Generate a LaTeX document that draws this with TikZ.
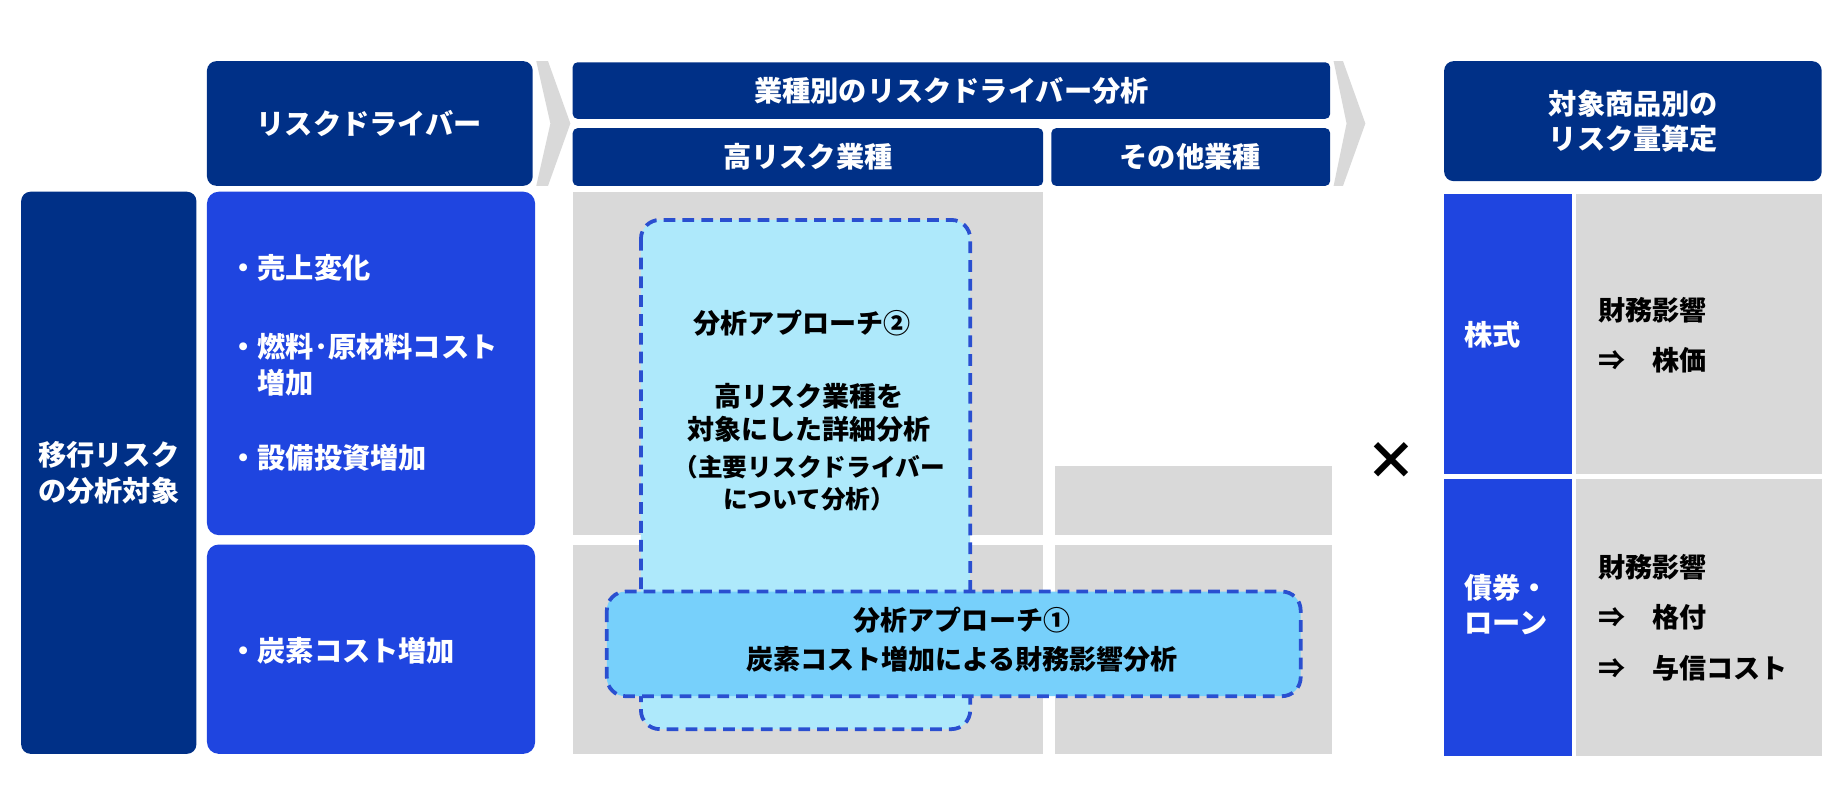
\documentclass[tikz,border=0pt]{standalone}
\usepackage{fontspec}
\setmainfont{Noto Sans CJK JP}
\begin{document}
\begin{tikzpicture}[x=0.5pt,y=-0.5pt,
  navy/.style={fill=navyc,draw=none,rounded corners=4pt},
  blu/.style={fill=bluec,draw=none,rounded corners=5pt},
  gry/.style={fill=grayc,draw=none},
  wt/.style={text=white,font=\bfseries\fontsize{12}{15}\selectfont},
  bk/.style={text=black,font=\bfseries\fontsize{11.5}{14}\selectfont},
  dsh/.style={draw=dashc,line width=1.6pt,dash pattern=on 5pt off 3pt,rounded corners=8pt}]
\definecolor{navyc}{HTML}{003087}
\definecolor{bluec}{HTML}{1F45E0}
\definecolor{grayc}{HTML}{D9D9D9}
\definecolor{dashc}{HTML}{2A4FD0}
\definecolor{cyan2}{HTML}{AEE9FB}
\definecolor{cyan1}{HTML}{77D0FB}
\useasboundingbox (0,0) rectangle (1568,677);
% left
\path[navy] (18,163) rectangle (167,641);
\node[wt,align=center] (obj) at (92.5,402) {移行リスク\\の分析対象};
\path[navy] (176,52) rectangle (453,158);
\node[wt] (rd) at (314,105) {リスクドライバー};
\path[blu] (176,163) rectangle (455,455);
\path[blu] (176,463) rectangle (455,641);
\node[wt,anchor=west] (d1) at (188,228) {・売上変化};
\node[wt,anchor=west,align=left] (d2) at (188,310) {・燃料･原材料コスト\\\phantom{・}増加};
\node[wt,anchor=west] (d3) at (188,389) {・設備投資増加};
\node[wt,anchor=west] (d4) at (188,553) {・炭素コスト増加};
% chevrons
\path[gry] (456,52) -- (466,52) -- (485,105) -- (466,158) -- (456,158) -- (468,105) -- cycle;
\path[gry] (1134,52) -- (1142,52) -- (1161,105) -- (1142,158) -- (1134,158) -- (1145,105) -- cycle;
% middle headers
\path[navy,rounded corners=2pt] (487,53) rectangle (1131,101);
\node[wt] (h1) at (809,77) {業種別のリスクドライバー分析};
\path[navy,rounded corners=2pt] (487,109) rectangle (887,158);
\node[wt] (h2) at (687,133) {高リスク業種};
\path[navy,rounded corners=2pt] (894,109) rectangle (1131,158);
\node[wt] (h3) at (1012,133) {その他業種};
% gray cells
\path[gry] (487,163) rectangle (887,455);
\path[gry] (487,463) rectangle (887,641);
\path[gry] (897,396) rectangle (1133,455);
\path[gry] (897,463) rectangle (1133,641);
% approach 2
\path[dsh,fill=cyan2] (545,187) rectangle (825,620);
\node[bk] (a2t) at (682,275) {分析アプローチ②};
\node[bk,align=center] (a2) at (688,351) {高リスク業種を\\対象にした詳細分析};
\node[bk,align=center,font=\bfseries\fontsize{10.5}{13.5}\selectfont] (a2s) at (688,411) {（主要リスクドライバー\\について分析）};
% approach 1
\path[dsh,fill=cyan1] (516,503) rectangle (1106,592);
\node[bk,align=center,font=\bfseries\fontsize{11.5}{16.5}\selectfont] (a1) at (818,544) {分析アプローチ①\\炭素コスト増加による財務影響分析};
% times
\node[font=\bfseries\fontsize{22}{22}\selectfont] (x) at (1183,392) {×};
% right
\path[navy] (1228,52) rectangle (1549,154);
\node[wt,align=center] (rh) at (1389,103) {対象商品別の\\リスク量算定};
\path[fill=bluec] (1228,165) rectangle (1337,403);
\path[gry] (1340,165) rectangle (1549,403);
\path[fill=bluec] (1228,407) rectangle (1337,643);
\path[gry] (1340,407) rectangle (1549,643);
\node[wt,anchor=west] (s) at (1238,285) {株式};
\node[wt,anchor=west,align=left] (b) at (1238,514) {債券・\\ローン};
\node[bk,anchor=west,align=left,font=\bfseries\fontsize{11.5}{21.5}\selectfont] (f1) at (1352,285) {財務影響\\⇒\quad 株価};
\node[bk,anchor=west,align=left,font=\bfseries\fontsize{11.5}{21.5}\selectfont] (f2) at (1352,525) {財務影響\\⇒\quad 格付\\⇒\quad 与信コスト};
\end{tikzpicture}
\end{document}
